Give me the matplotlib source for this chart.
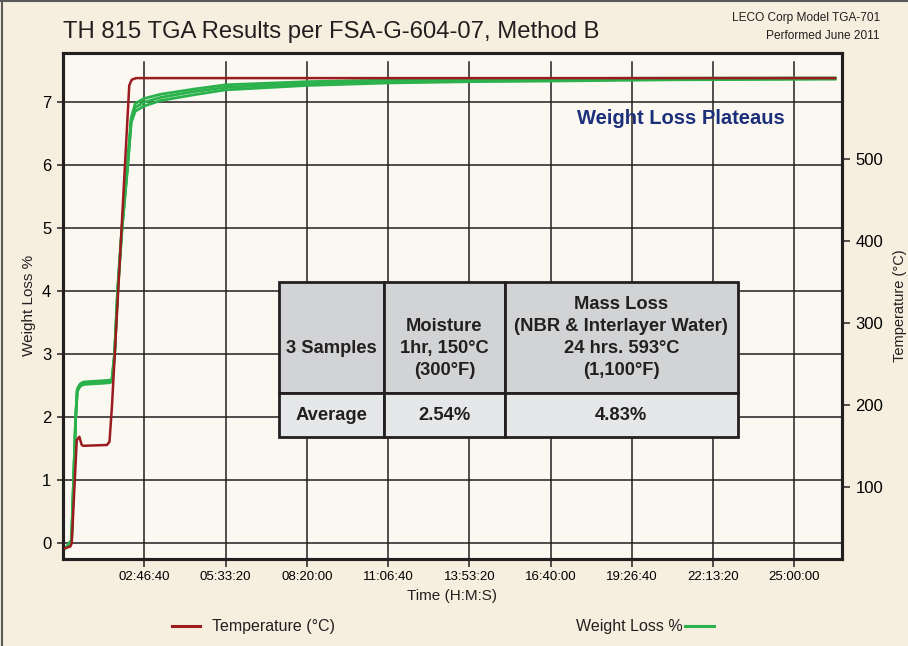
import matplotlib
matplotlib.use("Agg")
import matplotlib.pyplot as plt
from matplotlib.lines import Line2D
from matplotlib.ticker import FuncFormatter

# temperature trace (seconds, degC)
temp_time = [250, 900, 1070, 1690, 2010, 2300, 2500, 5400, 5720, 6020, 7000,
             8150, 8450, 9000, 30000, 60000, 95000]
temp_c = [25, 27, 31, 157, 161, 151, 150, 151, 155, 198, 378,
          590, 597, 599, 599, 599, 599]

# weight loss traces for the three samples (seconds, %)
wt_time = [250, 500, 1050, 1290, 1560, 1750, 2100, 2500, 3500, 4800, 5800, 6020,
           6340, 6710, 7250, 7940, 8390, 8880, 9910, 12000, 16000, 20000,
           30000, 40000, 50000, 60000, 75000, 95000]
wt_s1 = [-0.08, -0.05, 0.05, 0.97, 2.01, 2.45, 2.53, 2.56, 2.57, 2.58, 2.59, 2.61,
         3.01, 4.01, 5.01, 6.02, 6.76, 6.98, 7.06, 7.13, 7.21, 7.28,
         7.33, 7.355, 7.37, 7.38, 7.385, 7.39]
wt_s2 = [-0.08, -0.05, 0.05, 0.96, 2.00, 2.43, 2.51, 2.54, 2.55, 2.56, 2.57, 2.59,
         2.99, 3.99, 4.99, 5.99, 6.72, 6.92, 7.00, 7.08, 7.17, 7.24,
         7.30, 7.33, 7.35, 7.36, 7.37, 7.38]
wt_s3 = [-0.08, -0.05, 0.05, 0.95, 1.98, 2.41, 2.49, 2.52, 2.53, 2.54, 2.55, 2.57,
         2.97, 3.97, 4.97, 5.96, 6.68, 6.86, 6.94, 7.03, 7.12, 7.20,
         7.27, 7.31, 7.33, 7.34, 7.36, 7.37]

x_ticks = [10000, 20000, 30000, 40000, 50000, 60000, 70000, 80000, 90000]
wt_ticks = [0, 1, 2, 3, 4, 5, 6, 7]
temp_ticks = [100, 200, 300, 400, 500]

# blank lines push the text down the same way as in the source table
table_rows = [
    [" \n \n3 Samples\n ", " \nMoisture\n1hr, 150°C\n(300°F)",
     "Mass Loss\n(NBR & Interlayer Water)\n24 hrs. 593°C\n(1,100°F)"],
    ["Average", "2.54%", "4.83%"],
]

RED = "#9b1b1f"
GREEN = "#2bb24c"
INK = "#231f20"
SANS = ["Liberation Sans", "DejaVu Sans"]

plt.rcParams["font.family"] = SANS


def hms(sec, pos=None):
    sec = int(round(sec))
    return f"{sec // 3600:02d}:{(sec % 3600) // 60:02d}:{sec % 60:02d}"


fig = plt.figure(figsize=(9.08, 6.46), dpi=100)
fig.patch.set_facecolor("#f6eedf")
ax = fig.add_axes([0.0694, 0.1347, 0.8574, 0.7837])
ax.set_facecolor("#fbf8f1")

ax.set_xlim(0, 95790)
ax.set_ylim(-0.25, 7.79)

# grid drawn by hand so vertical lines stop short of the top frame
for y in wt_ticks:
    ax.axhline(y, color=INK, lw=1.1, zorder=1)
for x in x_ticks:
    ax.axvline(x, ymin=0, ymax=0.982, color=INK, lw=1.1, zorder=1)

for s in (wt_s1, wt_s2, wt_s3):
    ax.plot(wt_time, s, color=GREEN, lw=2.0, zorder=3)

ax.set_xticks(x_ticks)
ax.xaxis.set_major_formatter(FuncFormatter(hms))
ax.set_yticks(wt_ticks)
ax.tick_params(axis="x", direction="out", length=6, width=1.1, color=INK,
               labelsize=9.5, pad=3)
ax.tick_params(axis="y", direction="out", length=4.5, width=1.1, color=INK,
               labelsize=12, pad=4)
for sp in ax.spines.values():
    sp.set_linewidth(2.2)
    sp.set_color(INK)

ax.set_xlabel("Time (H:M:S)", fontsize=11, labelpad=4, color=INK)
ax.set_ylabel("Weight Loss %", fontsize=11, labelpad=4, color=INK)

ax2 = ax.twinx()
ax2.set_ylim(11.8, 630)
ax2.plot(temp_time, temp_c, color=RED, lw=1.8, zorder=4)
ax2.set_yticks(temp_ticks)
ax2.tick_params(axis="y", direction="out", length=6, width=1.1, color=INK,
                labelsize=12, pad=4)
ax2.set_ylabel("Temperature (°C)", fontsize=10.5, labelpad=7, color=INK)
for sp in ax2.spines.values():
    sp.set_linewidth(2.2)
    sp.set_color(INK)

# summary table
tbl = ax2.table(cellText=table_rows, cellLoc="center",
                colWidths=[105, 121, 233],
                bbox=[0.2772, 0.241, 0.5896, 0.3065], zorder=6)
tbl.auto_set_font_size(False)
for (r, c), cell in tbl.get_celld().items():
    cell.set_height(112 if r == 0 else 44)
    cell.set_facecolor("#d2d3d4" if r == 0 else "#e6e7e8")
    cell.set_edgecolor(INK)
    cell.set_linewidth(2.0)
    cell.get_text().set_fontsize(13.2)
    cell.get_text().set_fontweight("bold")
    cell.get_text().set_color(INK)
    cell.get_text().set_linespacing(1.4)

fig.text(0.75, 0.817, "Weight Loss Plateaus", color="#1b2f7a", fontsize=14.5,
         fontweight="bold", ha="center", va="center")

fig.text(0.0694, 0.951, "TH 815 TGA Results per FSA-G-604-07, Method B",
         fontsize=17.2, color=INK, ha="left", va="center")
fig.text(0.969, 0.972, "LECO Corp Model TGA-701", fontsize=8.6, color=INK,
         ha="right", va="center")
fig.text(0.969, 0.944, "Performed June 2011", fontsize=8.6, color=INK,
         ha="right", va="center")

# legend drawn as figure lines + text
ly = 1 - 626 / 646
fig.add_artist(Line2D([172 / 908, 200 / 908], [ly, ly], color=RED, lw=2.2))
fig.text(212 / 908, ly, "Temperature (°C)", fontsize=11.5, color=INK,
         ha="left", va="center")
fig.text(683 / 908, ly, "Weight Loss %", fontsize=11.5, color=INK,
         ha="right", va="center")
fig.add_artist(Line2D([685 / 908, 714 / 908], [ly, ly], color=GREEN, lw=2.2))

# outer border on top and left
fig.add_artist(Line2D([0, 1], [0.998, 0.998], color="#5a5a5a", lw=1.5))
fig.add_artist(Line2D([0.002, 0.002], [0, 1], color="#5a5a5a", lw=1.5))

fig.savefig("out.png", dpi=100, facecolor=fig.get_facecolor())
